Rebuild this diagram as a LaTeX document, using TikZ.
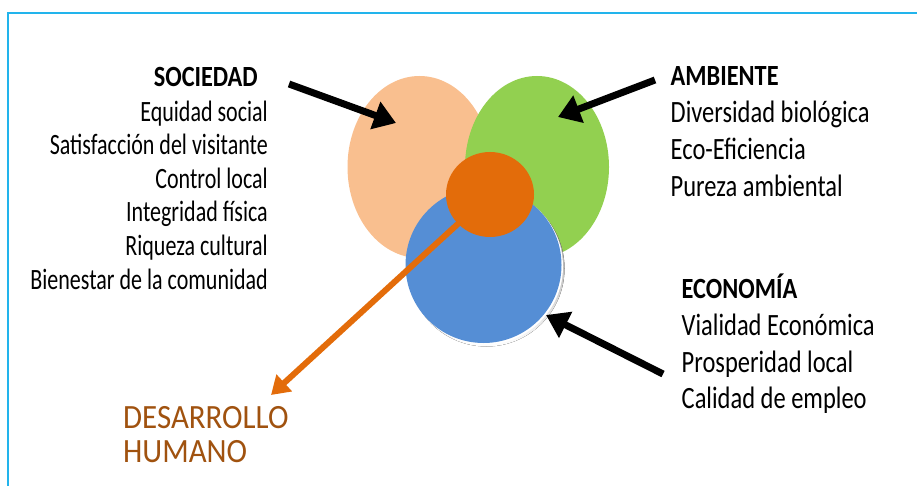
\documentclass[tikz,border=0pt]{standalone}
\usepackage{fontspec}
\setmainfont{Carlito}
\newfontfamily\lfont[FakeStretch=0.746]{Carlito}
\newfontfamily\rfont[FakeStretch=0.79]{Carlito}
\newfontfamily\hfont[FakeStretch=0.83]{Carlito}
\newfontfamily\dfont[FakeStretch=0.91]{Carlito}
\usetikzlibrary{arrows.meta}
\definecolor{peach}{HTML}{F9BF8F}
\definecolor{leaf}{HTML}{92D050}
\definecolor{sky}{HTML}{558ED5}
\definecolor{rust}{HTML}{E36C0A}
\definecolor{shade}{HTML}{8C9AAF}
\definecolor{frameblue}{HTML}{22B4EC}
\definecolor{brownt}{HTML}{A0520F}
\begin{document}
\begin{tikzpicture}[x=1pt,y=-1pt,
  lbl/.style={inner sep=0pt,font=\lfont\fontsize{29.5}{34}\selectfont},
  rlbl/.style={inner sep=0pt,font=\rfont\fontsize{31}{36}\selectfont},
  hdr/.style={inner sep=0pt,font=\hfont\bfseries\fontsize{29.3}{34}\selectfont},
  dlbl/.style={inner sep=0pt,text=brownt,font=\dfont\fontsize{34}{38}\selectfont},
  blackarrow/.style={line width=7pt,-{Triangle[length=22pt,width=28pt]}},
  orangearrow/.style={rust,line width=6pt,-{Triangle[length=18pt,width=22pt]}}]
\useasboundingbox (0,0) rectangle (917,486);
% frame
\draw[frameblue,line width=2.5pt] (917,13) -- (8,13) -- (8,486);
% shapes
\fill[peach] (419.5,167) ellipse[x radius=72,y radius=91];
\fill[leaf] (537,167) ellipse[x radius=72,y radius=91];
\fill[shade] (486.5,268.5) circle[radius=78];
\fill[white] (485,266.5) circle[radius=78];
\fill[sky] (483.5,265) circle[radius=78];
\coordinate (oc) at (490,194.5);
\coordinate (dh) at (271,395);
\draw[orangearrow] (oc) -- (dh);
\fill[rust] (oc) ellipse[x radius=44,y radius=42.5];
% black arrows
\coordinate (s0) at (289,84);
\coordinate (s1) at (396,123);
\coordinate (a0) at (655,80);
\coordinate (a1) at (558,117);
\coordinate (e0) at (663,374);
\coordinate (e1) at (546,315);
\draw[blackarrow] (s0) -- (s1);
\draw[blackarrow] (a0) -- (a1);
\draw[blackarrow] (e0) -- (e1);
% left texts
\node[hdr,anchor=base east] (soc) at (258,86.7) {SOCIEDAD};
\node[lbl,anchor=base east] (s1t) at (268,121.7) {Equidad social};
\node[lbl,anchor=base east] (s2t) at (268,155) {Satisfacción del visitante};
\node[lbl,anchor=base east] (s3t) at (268,188.5) {Control local};
\node[lbl,anchor=base east] (s4t) at (268,222) {Integridad física};
\node[lbl,anchor=base east] (s5t) at (268,255.5) {Riqueza cultural};
\node[lbl,anchor=base east] (s6t) at (268,289) {Bienestar de la comunidad};
% right texts
\node[hdr,anchor=base west] (amb) at (670.5,86) {AMBIENTE};
\node[rlbl,anchor=base west] (a1t) at (670.5,123) {Diversidad biológica};
\node[rlbl,anchor=base west] (a2t) at (670.5,160) {Eco-Eficiencia};
\node[rlbl,anchor=base west] (a3t) at (670.5,197) {Pureza ambiental};
\node[hdr,anchor=base west] (eco) at (681.5,298) {ECONOMÍA};
\node[rlbl,anchor=base west] (e1t) at (681.5,335) {Vialidad Económica};
\node[rlbl,anchor=base west] (e2t) at (681.5,372) {Prosperidad local};
\node[rlbl,anchor=base west] (e3t) at (681.5,408) {Calidad de empleo};
% bottom
\node[dlbl,anchor=base west] (dhl) at (123,428) {DESARROLLO};
\node[dlbl,anchor=base west] (dhl2) at (123,462) {HUMANO};
\end{tikzpicture}
\end{document}
